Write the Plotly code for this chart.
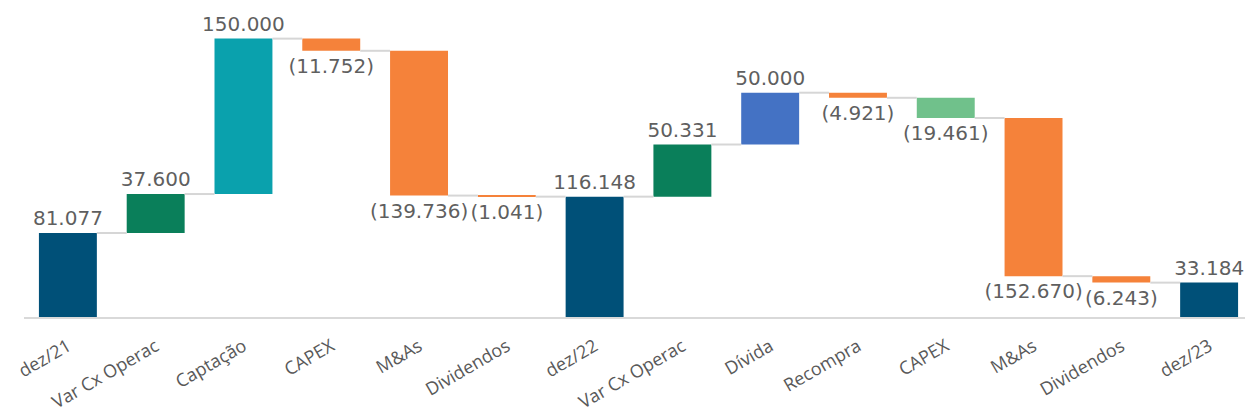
import plotly.graph_objects as go

categories = ["dez/21", "Var Cx Operac", "Captação", "CAPEX", "M&As", "Dividendos",
              "dez/22", "Var Cx Operac", "Dívida", "Recompra", "CAPEX", "M&As",
              "Dividendos", "dez/23"]
values = [81.077, 37.600, 150.000, -11.752, -139.736, -1.041,
          116.148, 50.331, 50.000, -4.921, -19.461, -152.670, -6.243, 33.184]
measures = ["total", "relative", "relative", "relative", "relative", "relative",
            "total", "relative", "relative", "relative", "relative", "relative",
            "relative", "total"]

# bar colours, one per category
colors = ["#005078", "#0a7f5a", "#0aa1ad", "#f5823a", "#f5823a", "#f5823a",
          "#005078", "#0a7f5a", "#4472c4", "#f5823a", "#70c18b", "#f5823a",
          "#f5823a", "#005078"]

def fmt(v):
    s = "{:.3f}".format(abs(v))
    return "(" + s + ")" if v < 0 else s

# running bases for the floating bars
bases, ends = [], []
run = 0
for v, m in zip(values, measures):
    if m == "total":
        bases.append(0)
        run = v
    else:
        bases.append(run)
        run = run + v
    ends.append(run)

x = list(range(len(categories)))
bw = 0.66

fig = go.Figure()
fig.add_trace(go.Bar(
    x=x, y=values, base=bases, width=bw,
    marker=dict(color=colors, line=dict(width=0)),
    text=[fmt(v) for v in values], textposition="outside",
    constraintext="none", cliponaxis=False,
    textfont=dict(family="DejaVu Sans", size=20, color="#5f5f5f"),
    hoverinfo="skip"))

# connectors between bars
cx, cy = [], []
for i in range(len(categories) - 1):
    cx += [i + bw / 2, i + 1 - bw / 2, None]
    cy += [ends[i], ends[i], None]
fig.add_trace(go.Scatter(x=cx, y=cy, mode="lines",
                         line=dict(color="#d6d6d6", width=2),
                         hoverinfo="skip", cliponaxis=False))

# page body has an 8px margin, so the figure is 8px smaller than the window
fig.update_layout(
    width=1245, height=411,
    margin=dict(l=16, r=0, t=2, b=102),
    plot_bgcolor="white", paper_bgcolor="white",
    showlegend=False,
    xaxis=dict(range=[-0.5, 13.5], tickvals=x, ticktext=categories,
               tickangle=-30, showgrid=False, zeroline=False,
               showline=True, linecolor="#d9d9d9", linewidth=2,
               ticks="", ticklabelstandoff=10, automargin=False,
               tickfont=dict(family="Open Sans", size=18, color="#595959")),
    yaxis=dict(range=[0, 296.3], visible=False, automargin=False),
)

fig.write_html("out.html")
